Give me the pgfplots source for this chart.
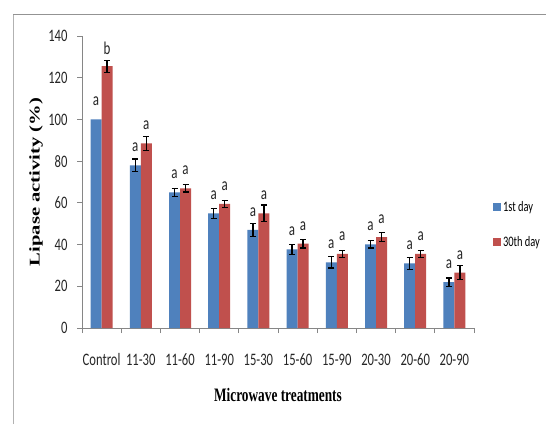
\documentclass[border=0pt]{standalone}
\usepackage{graphicx}
\usepackage{fontspec}
\setmainfont{Carlito}
\newfontfamily\calnarrow{Carlito}[FakeStretch=0.72]
\newfontfamily\tnrnarrow{Liberation Serif}[FakeStretch=0.70]
\newfontfamily\tnrplain{Liberation Serif}
\usepackage{pgfplots}
\usepackage{pgfplotstable}
\pgfplotsset{compat=1.18}
\definecolor{xlblue}{RGB}{79,129,189}
\definecolor{xlred}{RGB}{192,80,77}
\definecolor{axgray}{RGB}{134,134,134}

\pgfplotstableread{
x y err lab
0 100 0 a
1 78 3.0 a
2 65 1.9 a
3 55 2.4 a
4 47 3.2 a
5 37.7 2.3 a
6 31.5 2.8 a
7 40.1 1.75 a
8 31 2.9 a
9 22 2.0 a
}\dayone

\pgfplotstableread{
x y err lab
0 125.5 2.9 b
1 88.5 3.4 a
2 67 1.8 a
3 59.5 1.6 a
4 55 4.0 a
5 40.4 2.0 a
6 35.5 1.6 a
7 43.6 2.1 a
8 35.5 1.8 a
9 26.5 3.4 a
}\daythirty

\begin{document}
\begin{tikzpicture}
\useasboundingbox (0pt,0pt) rectangle (546pt,424pt);
\fill[white] (0pt,0pt) rectangle (546pt,424pt);
\draw[gray!60, line width=0.8pt] (13pt,0pt) -- (13pt,409.5pt);
\draw[gray!85, line width=1.5pt] (13pt,409.5pt) -- (546pt,409.5pt);
\begin{axis}[
  at={(82pt,96pt)}, anchor=south west,
  scale only axis, width=392pt, height=292pt,
  xmin=-0.5, xmax=9.5, ymin=0, ymax=140,
  enlargelimits=false,
  axis lines*=left,
  axis line style={axgray, line width=0.8pt, -},
  tick align=outside,
  major tick length=5pt,
  tick style={axgray, line width=0.8pt},
  ytick={0,20,...,140},
  xtick={-0.5,0.5,...,9.5},
  xticklabels={},
  extra x ticks={0,1,2,3,4,5,6,7,8,9},
  extra x tick labels={Control,11-30,11-60,11-90,15-30,15-60,15-90,20-30,20-60,20-90},
  extra x tick style={major tick length=0pt},
  /pgf/number format/assume math mode=true,
  tick label style={font=\calnarrow\fontsize{17.5}{20}\selectfont, text=black!85},
  xticklabel style={anchor=base, yshift=-37.5pt},
  yticklabel style={anchor=east, xshift=-6pt},
  every axis x label/.style={at={(axis description cs:0.5,-0.229)}, anchor=center},
  every axis y label/.style={at={(axis description cs:-0.1173,0.5)}, anchor=center, rotate=90},
  xlabel={\tnrnarrow\bfseries\fontsize{19}{22}\selectfont Microwave treatments},
  ylabel={\scalebox{1}[0.72]{\tnrplain\bfseries\fontsize{20.6}{24}\selectfont Lipase activity (\%)}},
  legend style={at={(axis description cs:1.048,0.354)}, anchor=west, draw=none, fill=none,
    font=\calnarrow\fontsize{14.5}{17}\selectfont, row sep=20pt, inner sep=0pt},
  legend cell align=left,
  legend image code/.code={\fill[#1] (0pt,-4pt) rectangle (8pt,4pt);},
  every node near coord/.append style={anchor=center, yshift=18pt, font=\calnarrow\fontsize{18}{20}\selectfont, text=black!85},
  errstyle/.style={forget plot, draw=none, mark=none, sharp plot,
    error bars/y dir=both, error bars/y explicit,
    error bars/error bar style={draw=black, line width=1.3pt},
    error bars/error mark options={rotate=90, draw=black, line width=1.3pt, mark size=3pt}},
  labstyle/.style={forget plot, draw=none, mark=none, sharp plot,
    nodes near coords, point meta=explicit symbolic},
]
% bars
\addplot[ybar, bar width=11pt, bar shift=-5.5pt, fill=xlblue, draw=none]
  table[x=x, y=y] {\dayone};
\addlegendentry{1st day}
\addplot[ybar, bar width=11pt, bar shift=5.5pt, fill=xlred, draw=none]
  table[x=x, y=y] {\daythirty};
\addlegendentry{30th day}
% error bars (no error bar on the Control 1st-day bar)
\addplot[errstyle, skip coords between index={0}{1}]
  table[x expr=\thisrow{x}-0.14031, y=y, y error=err] {\dayone};
\addplot[errstyle]
  table[x expr=\thisrow{x}+0.14031, y=y, y error=err] {\daythirty};
% significance letters
\addplot[labstyle]
  table[x expr=\thisrow{x}-0.14031, y=y, meta=lab] {\dayone};
\addplot[labstyle]
  table[x expr=\thisrow{x}+0.14031, y=y, meta=lab] {\daythirty};
\end{axis}
\end{tikzpicture}
\end{document}
